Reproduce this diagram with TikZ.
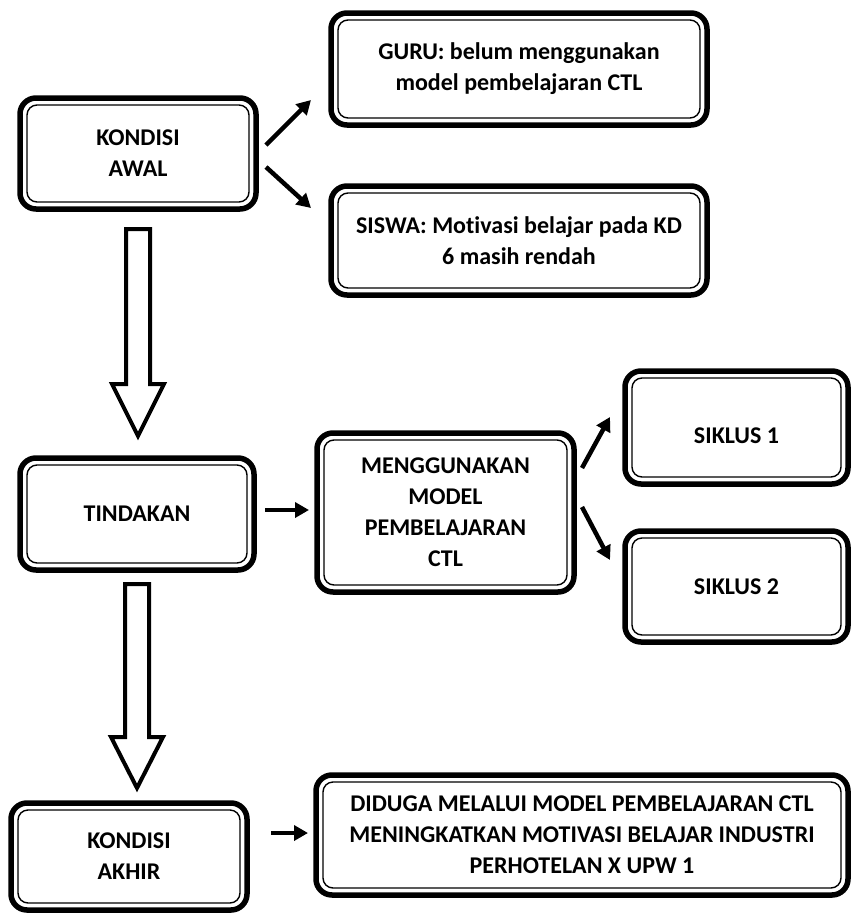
\documentclass[tikz,border=0pt]{standalone}
\usepackage{fontspec}
\setmainfont[Ligatures=NoCommon]{Carlito}
\usetikzlibrary{arrows.meta}
\tikzset{
  box/.style={draw=black, line width=5.5pt, rounded corners=16pt, outer sep=0pt,
    inner sep=0pt, align=center,
    font=\bfseries\fontsize{24}{31}\selectfont},
  innerline/.style={draw=black, line width=1.4pt, rounded corners=10pt},
  arr/.style={line width=4.5pt, -{Triangle[length=14pt,width=15pt]}},
  hollow/.style={draw=black, line width=4pt, fill=white, miter limit=10}
}
\begin{document}
\begin{tikzpicture}[x=1pt,y=-1pt]
\useasboundingbox (0,0) rectangle (852,916);
% boxes
\node[box, minimum width=236pt, minimum height=111pt] (awal) at (138,153.5) {KONDISI\\AWAL};
\node[box, minimum width=376pt, minimum height=112pt] (guru) at (519,69) {GURU: belum menggunakan\\model pembelajaran CTL};
\node[box, minimum width=376pt, minimum height=109pt] (siswa) at (519,240.5) {SISWA: Motivasi belajar pada KD\\6 masih rendah};
\node[box, minimum width=234pt, minimum height=112pt] (tind) at (137,514) {TINDAKAN};
\node[box, minimum width=257pt, minimum height=159pt] (meng) at (445.5,512.5) {MENGGUNAKAN\\MODEL\\PEMBELAJARAN\\CTL};
\node[box, minimum width=223pt, minimum height=113pt, text height=31pt, text depth=0pt] (sik1) at (736.5,427.5) {SIKLUS 1};
\node[box, minimum width=223pt, minimum height=111pt] (sik2) at (736.5,586.5) {SIKLUS 2};
\node[box, minimum width=236pt, minimum height=107pt] (akhir) at (129,856.5) {KONDISI\\AKHIR};
\node[box, minimum width=532pt, minimum height=120pt] (final) at (582,835) {DIDUGA MELALUI MODEL PEMBELAJARAN CTL\\MENINGKATKAN MOTIVASI BELAJAR INDUSTRI\\PERHOTELAN X UPW 1};
% inner borders
\foreach \n in {awal,guru,siswa,tind,meng,sik1,sik2,akhir,final}
  \draw[innerline] ([shift={(7pt,7pt)}]\n.south west) rectangle ([shift={(-7pt,-7pt)}]\n.north east);
% small arrows
\draw[arr] ([xshift=10pt,yshift=8.5pt]awal.east) -- ([xshift=-20pt,yshift=-31pt]guru.west);
\draw[arr] ([xshift=10pt,yshift=-13.5pt]awal.east) -- ([xshift=-20pt,yshift=32.5pt]siswa.west);
\draw[arr] ([xshift=11pt,yshift=4pt]tind.east) -- ([xshift=-8pt,yshift=2.5pt]meng.west);
\draw[arr] ([xshift=8pt,yshift=44.5pt]meng.east) -- ([xshift=-15pt,yshift=10.5pt]sik1.west);
\draw[arr] ([xshift=8pt,yshift=5.5pt]meng.east) -- ([xshift=-15pt,yshift=26.5pt]sik2.west);
\draw[arr] ([xshift=24pt,yshift=23.5pt]akhir.east) -- ([xshift=-8pt,yshift=2pt]final.west);
% hollow arrows
\coordinate (h1) at ([yshift=-20pt]awal.south);
\coordinate (h2) at ([yshift=-14pt]tind.south);
\draw[hollow] (h1) ++(-12,0) -- ++(0,155) -- ++(-14,0) -- ++(26,52) -- ++(26,-52) -- ++(-14,0) -- ++(0,-155) -- cycle;
\draw[hollow] (h2) ++(-12,0) -- ++(0,153) -- ++(-14,0) -- ++(26,51) -- ++(26,-51) -- ++(-14,0) -- ++(0,-153) -- cycle;
\end{tikzpicture}
\end{document}
